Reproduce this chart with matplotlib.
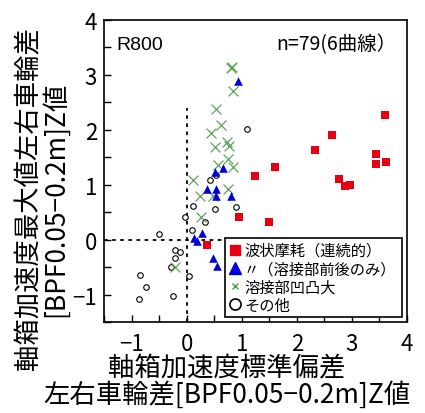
import numpy as np
import matplotlib
matplotlib.use('Agg')
import matplotlib.pyplot as plt
from matplotlib.lines import Line2D
from matplotlib.ticker import MultipleLocator

plt.rcParams['font.family'] = ['Noto Sans CJK JP', 'DejaVu Sans']

# 波状摩耗(連続的)
wave_x = [3.61, 2.64, 2.33, 1.61, 1.24, 3.43, 3.44, 3.62, 2.77, 2.87, 2.97, 0.95, 1.50, 0.37]
wave_y = [2.27, 1.91, 1.64, 1.32, 1.16, 1.56, 1.38, 1.41, 1.11, 0.97, 0.99, 0.42, 0.33, -0.09]

# 〃(溶接部前後のみ)
weldwave_x = [0.93, 0.51, 0.66, 0.37, 0.53, 0.53, 0.81, 0.28, 0.13, 0.19, 0.47, 0.56]
weldwave_y = [2.88, 1.24, 1.30, 0.92, 0.93, 0.79, 0.79, 0.12, 0.03, -0.03, -0.33, -0.48]

# 溶接部凹凸大
weld_x = [0.82, 0.80, 0.84, 0.54, 0.63, 0.45, 0.51, 0.74, 0.77, 0.75, 0.84, 0.57,
          0.11, 0.24, 0.48, 0.75, 0.26, -0.21]
weld_y = [3.15, 3.12, 2.70, 2.38, 2.09, 1.94, 1.68, 1.77, 1.71, 1.47, 1.33, 1.36,
          1.09, 0.79, 0.79, 0.92, 0.41, -0.50]

# その他
other_x = [1.10, 0.43, 0.54, 0.12, 0.52, 0.90, -0.03, 0.33, 0.09, -0.50,
           -0.21, -0.12, -0.22, -0.29, 0.05, -0.85, -0.74, -0.87, -0.25]
other_y = [2.02, 1.08, 1.18, 0.61, 0.56, 0.59, 0.41, 0.32, 0.18, 0.11,
           -0.19, -0.23, -0.33, -0.50, -0.67, -0.64, -0.87, -1.08, -1.03]

red = '#e60012'
blue = '#0000dc'
green = '#4c9a4c'

fig = plt.figure(figsize=(4.25, 4.14), dpi=100)
ax = fig.add_axes([0.2447, 0.2198, 0.7129, 0.7295])

# guide lines through the origin
ax.plot([0, 0], [-1.5, 2.4], color='k', ls=(0, (2, 2.5)), lw=1.3, zorder=1)
ax.plot([-1.5, 0.7], [0, 0], color='k', ls=(0, (2, 2.5)), lw=1.3, zorder=1)

ax.scatter(other_x, other_y, s=16, facecolors='white', edgecolors='k', linewidths=0.8, zorder=2)
ax.scatter(weld_x, weld_y, s=50, marker='x', color=green, linewidths=0.8, zorder=3)
ax.scatter(weldwave_x, weldwave_y, s=38, marker='^', color=blue, linewidths=0, zorder=4)
ax.scatter(wave_x, wave_y, s=32, marker='s', color=red, linewidths=0, zorder=5)

ax.set_xlim(-1.5, 4)
ax.set_ylim(-1.5, 4)
ax.xaxis.set_major_locator(MultipleLocator(1))
ax.yaxis.set_major_locator(MultipleLocator(1))
ax.xaxis.set_minor_locator(MultipleLocator(0.5))
ax.yaxis.set_minor_locator(MultipleLocator(0.5))
ax.tick_params(which='both', direction='in', length=5, width=1, top=False, right=False)
ax.tick_params(axis='x', labelsize=16, pad=7)
ax.tick_params(axis='y', labelsize=16, pad=5)
for s in ax.spines.values():
    s.set_linewidth(1.2)

ax.text(0.04, 0.905, 'R800', transform=ax.transAxes, fontsize=14,
        family=['Liberation Sans', 'DejaVu Sans'])
ax.text(0.965, 0.905, 'n=79(6曲線）', transform=ax.transAxes, fontsize=14, ha='right')

handles = [
    Line2D([], [], ls='none', marker='s', ms=6.5, color=red),
    Line2D([], [], ls='none', marker='^', ms=8, color=blue),
    Line2D([], [], ls='none', marker='x', ms=5, mew=1, color=green),
    Line2D([], [], ls='none', marker='o', ms=8, mfc='white', mec='k', mew=1.2),
]
labels = ['波状摩耗（連続的）', '〃（溶接部前後のみ）', '溶接部凹凸大', 'その他']
leg = ax.legend(handles, labels, loc='upper left', mode='expand',
                bbox_to_anchor=(0.399, 0.026, 0.584, 0.252),
                borderaxespad=0, fontsize=11, handlelength=0.8, handletextpad=0.2,
                labelspacing=0.08, borderpad=0.25, fancybox=False, framealpha=1,
                edgecolor='k')
leg.get_frame().set_linewidth(1.2)
leg.set_zorder(10)

fig.text(227 / 425, 1 - 382 / 414, '軸箱加速度標準偏差\n左右車輪差[BPF0.05−0.2m]Z値',
         ha='center', va='center', fontsize=19, linespacing=0.95)
fig.text(42 / 425, 1 - 199 / 414, '軸箱加速度最大値左右車輪差\n[BPF0.05−0.2m]Z値',
         ha='center', va='center', rotation=90, fontsize=19, linespacing=0.95)

fig.savefig('out.png', dpi=100)
